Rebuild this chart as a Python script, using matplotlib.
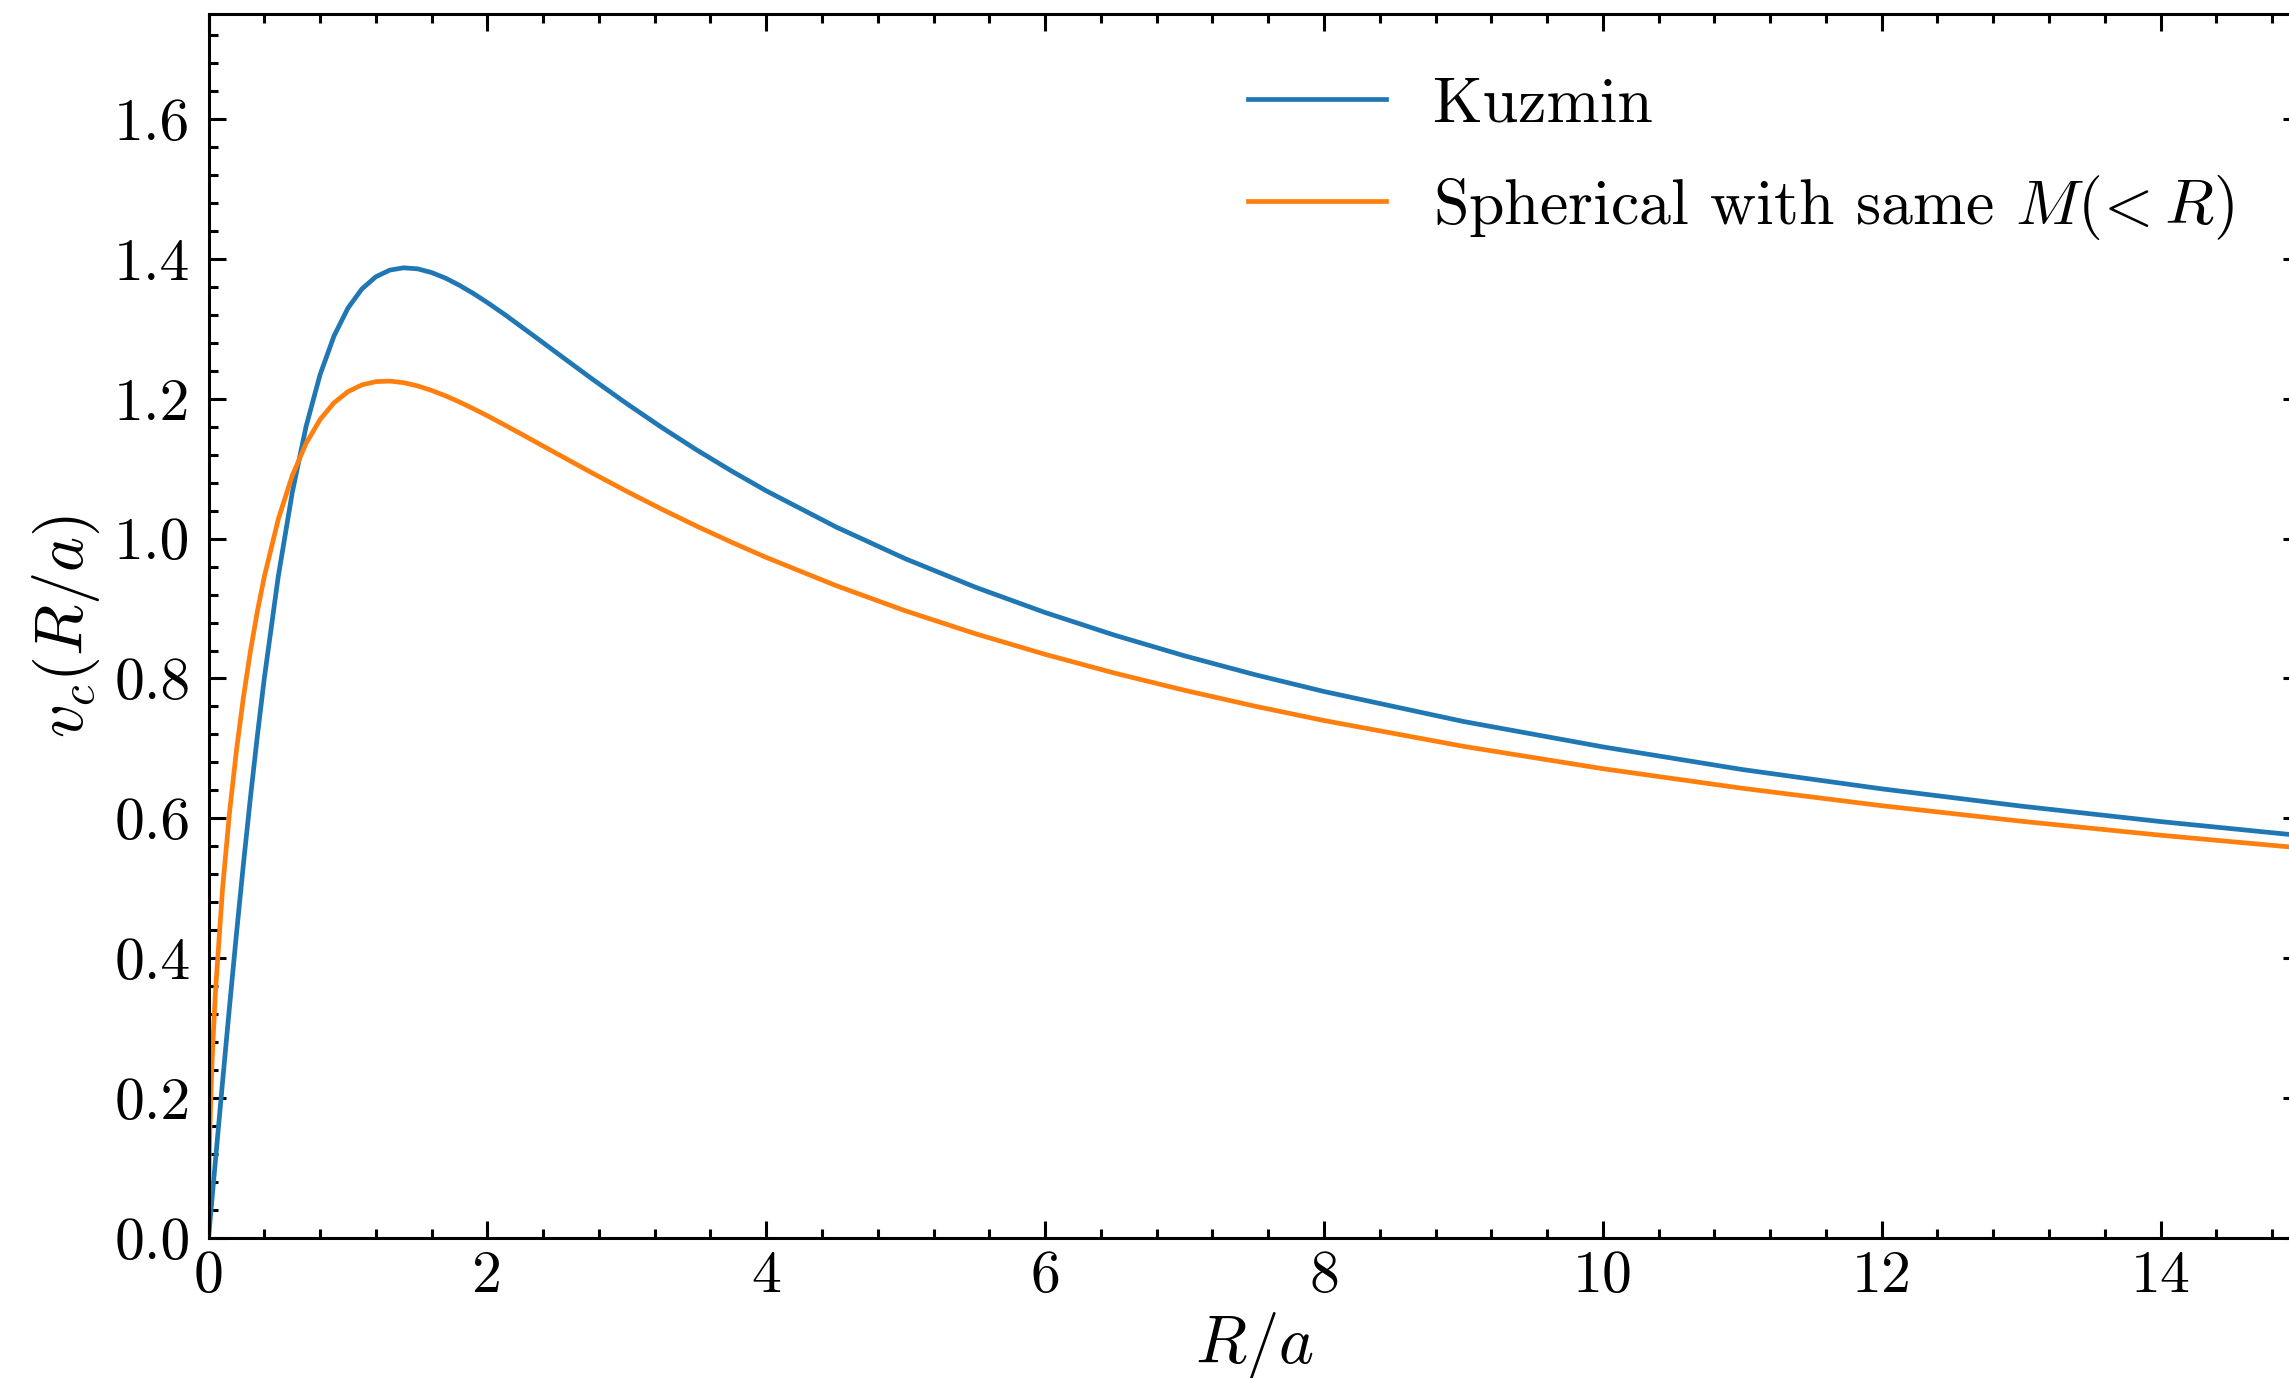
import numpy as np
import matplotlib
matplotlib.use("Agg")
import matplotlib.pyplot as plt
from matplotlib.ticker import MultipleLocator, AutoMinorLocator

# === Données ===
r_over_a = [0.0, 0.001, 0.005, 0.01, 0.02, 0.03, 0.05, 0.1, 0.15, 0.2, 0.25, 0.3,
            0.35, 0.4, 0.5, 0.6, 0.7, 0.8, 0.9, 1.0, 1.1, 1.2, 1.3, 1.4, 1.5,
            1.6, 1.7, 1.8, 1.9, 2.0, 2.125, 2.25, 2.375, 2.5, 2.75, 3.0, 3.25,
            3.5, 3.75, 4.0, 4.5, 5.0, 5.5, 6.0, 6.5, 7.0, 7.5, 8.0, 9.0, 10.0,
            11.0, 12.0, 13.0, 14.0, 15.0]

v_kuzmin = [0.0, 0.0022, 0.0112, 0.0224, 0.0447, 0.0671, 0.1116, 0.2219, 0.3298,
            0.4342, 0.5342, 0.6288, 0.7176, 0.8002, 0.9457, 1.0653, 1.1606,
            1.2344, 1.2897, 1.3296, 1.3570, 1.3744, 1.3839, 1.3872, 1.3857,
            1.3804, 1.3724, 1.3621, 1.3504, 1.3375, 1.3203, 1.3020, 1.2837,
            1.2652, 1.2284, 1.1929, 1.1590, 1.1269, 1.0968, 1.0683, 1.0167,
            0.9710, 0.9305, 0.8943, 0.8618, 0.8324, 0.8057, 0.7814, 0.7385,
            0.7022, 0.6698, 0.6422, 0.6175, 0.5954, 0.5755]

v_spherical = [0.0, 0.0500, 0.1118, 0.1581, 0.2236, 0.2738, 0.3533, 0.4981,
               0.6073, 0.6968, 0.7727, 0.8384, 0.8956, 0.9455, 1.0275, 1.0898,
               1.1363, 1.1703, 1.1942, 1.2101, 1.2198, 1.2244, 1.2252, 1.2229,
               1.2183, 1.2119, 1.2041, 1.1953, 1.1857, 1.1756, 1.1623, 1.1488,
               1.1350, 1.1213, 1.0940, 1.0675, 1.0421, 1.0179, 0.9949, 0.9731,
               0.9328, 0.8966, 0.8640, 0.8345, 0.8076, 0.7831, 0.7606, 0.7399,
               0.7030, 0.6710, 0.6430, 0.6181, 0.5959, 0.5759, 0.5578]

# === Style ===
plt.rcParams["font.family"] = "serif"
plt.rcParams["font.serif"] = ["cmr10"]
plt.rcParams["mathtext.fontset"] = "cm"
plt.rcParams["axes.formatter.use_mathtext"] = True
plt.rcParams["axes.unicode_minus"] = False

fig = plt.figure(figsize=(11.445, 6.89), dpi=200)
ax = fig.add_axes([0.0911, 0.1016, 0.9137, 0.8882])

ax.plot(r_over_a, v_kuzmin, color="#1f77b4", lw=1.7, label="Kuzmin")
ax.plot(r_over_a, v_spherical, color="#ff7f0e", lw=1.7,
        label=r"Spherical with same $M(\!< R)$")

ax.set_xlim(0, 15)
ax.set_ylim(0, 1.75)
ax.xaxis.set_major_locator(MultipleLocator(2))
ax.xaxis.set_minor_locator(AutoMinorLocator(5))
ax.yaxis.set_major_locator(MultipleLocator(0.2))
ax.yaxis.set_minor_locator(AutoMinorLocator(5))
ax.yaxis.set_major_formatter(plt.FuncFormatter(lambda v, p: f"{v:.1f}"))
ax.xaxis.set_major_formatter(plt.FuncFormatter(lambda v, p: f"{v:.0f}"))

ax.tick_params(which="both", direction="in", top=True, right=True, width=1.1,
               labelsize=21.5)
ax.tick_params(which="major", length=6)
ax.tick_params(which="minor", length=3.2)
ax.tick_params(axis="y", pad=6.5)
ax.tick_params(axis="x", pad=4.5)
for s in ax.spines.values():
    s.set_linewidth(1.1)

ax.set_xlabel(r"$R/a$", fontsize=24, labelpad=2)
ax.set_ylabel(r"$v_c(R/a)$", fontsize=24, labelpad=4.5)

ax.legend(loc="upper right", bbox_to_anchor=(0.996, 0.996), frameon=False,
          fontsize=23, handlelength=2.15, handletextpad=0.75, labelspacing=0.6)

fig.savefig("out.png", dpi=200)
